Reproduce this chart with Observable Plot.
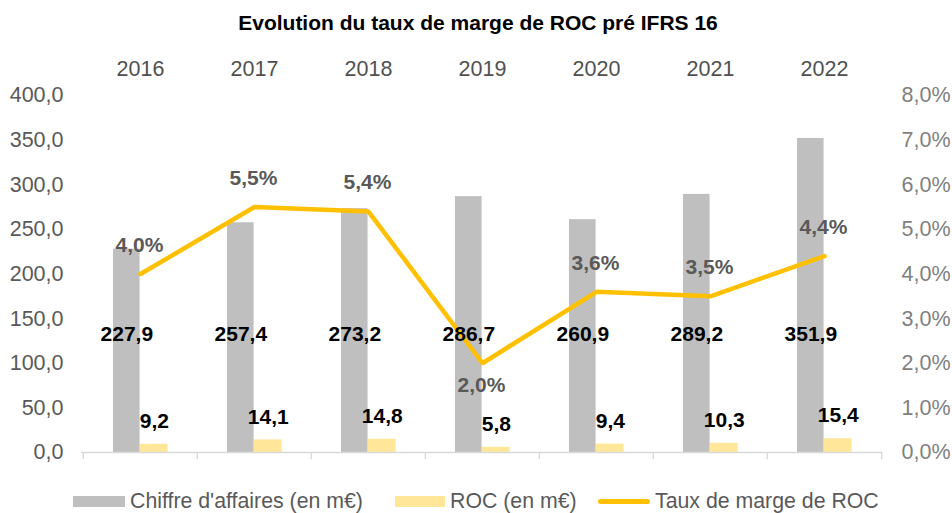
<!DOCTYPE html>
<html><head><meta charset="utf-8">
<script src="https://cdn.jsdelivr.net/npm/d3@7"></script>
<script src="https://cdn.jsdelivr.net/npm/@observablehq/plot@0.6"></script>
<style>
body{margin:0;background:#fff;font-family:"Liberation Sans",Arial,sans-serif;}
#wrap{position:relative;width:952px;height:513px;}
#title{position:absolute;left:0;top:0;width:956px;height:46px;line-height:46px;text-align:center;font-weight:bold;font-size:21px;color:#000;}
#chart{position:absolute;left:0;top:44px;}
.lg{position:absolute;top:487px;height:28px;line-height:28px;font-size:21.3px;color:#595959;white-space:nowrap;}
.sw{position:absolute;}
</style></head>
<body><div id="wrap">
<div id="title">Evolution du taux de marge de ROC pré IFRS 16</div>
<div id="chart"></div>
<div class="sw" style="left:73px;top:496px;width:52px;height:11px;background:#bfbfbf"></div>
<div class="lg" style="left:130px">Chiffre d'affaires (en m€)</div>
<div class="sw" style="left:395px;top:496px;width:50px;height:11px;background:#ffe699"></div>
<div class="lg" style="left:450px">ROC (en m€)</div>
<div class="sw" style="left:598px;top:499px;width:52px;height:5px;border-radius:3px;background:#ffc000"></div>
<div class="lg" style="left:655px">Taux de marge de ROC</div>
</div>
<script>
const years = ["2016","2017","2018","2019","2020","2021","2022"];
const chiffreAffaires = [227.9, 257.4, 273.2, 286.7, 260.9, 289.2, 351.9];
const roc = [9.2, 14.1, 14.8, 5.8, 9.4, 10.3, 15.4];
const tauxMarge = [4.0, 5.5, 5.4, 2.0, 3.6, 3.5, 4.4];
const leftTicks = [0, 50, 100, 150, 200, 250, 300, 350, 400];
const rightTicks = [0, 1, 2, 3, 4, 5, 6, 7, 8];

const data = years.map((y, i) => ({year: y, ca: chiffreAffaires[i], roc: roc[i], taux: tauxMarge[i]}));
const k = 400 / 8; // secondary axis scaling: 8% <-> 400
const fmt1 = v => v.toFixed(1).replace(".", ",");
const minTaux = d3.min(tauxMarge);
const isMin = d => d.taux === minTaux;

const W = 952, ML = 81, MR = 70;
const bw = (W - ML - MR) / years.length;
const grey = "#bfbfbf", yellow = "#ffe699", gold = "#ffc000", txt = "#595959";

const plot = Plot.plot({
  width: W, height: 441,
  marginLeft: ML, marginRight: MR, marginTop: 51, marginBottom: 33,
  style: {fontFamily: "Liberation Sans, Arial, sans-serif", fontSize: "21px", color: txt, background: "white"},
  x: {domain: years, padding: 0, axis: null},
  y: {domain: [0, 400], axis: null},
  marks: [
    Plot.axisX({anchor: "top", label: null, tickSize: 0, tickPadding: 20, fontSize: 21.5, fill: "#505050"}),
    Plot.axisY(leftTicks, {anchor: "left", label: null, tickSize: 0, tickPadding: 18, tickFormat: fmt1, fontSize: 21.5, fill: txt}),
    Plot.axisY(rightTicks.map(t => t * k), {anchor: "right", label: null, tickSize: 0, tickPadding: 19, tickFormat: v => fmt1(v / k) + "%", fontSize: 21.5, fill: "#7f7f7f"}),
    Plot.barY(data, {x: "year", y: "ca", fill: grey, insetLeft: 30, insetRight: bw - 57}),
    Plot.barY(data, {x: "year", y: "roc", fill: yellow, insetLeft: 57, insetRight: bw - 85}),
    Plot.ruleY([0], {stroke: "#d9d9d9", strokeWidth: 1.3}),
    Plot.ruleX(data, {x: "year", y1: 0, y2: -8, dx: -bw / 2, stroke: "#d9d9d9", strokeWidth: 1.3}),
    Plot.ruleX(data.slice(-1), {x: "year", y1: 0, y2: -8, dx: bw / 2, stroke: "#d9d9d9", strokeWidth: 1.3}),
    Plot.line(data, {x: "year", y: d => d.taux * k, stroke: gold, strokeWidth: 4.5, strokeLinejoin: "miter", strokeLinecap: "round"}),
    Plot.text(data, {x: "year", y: 133, text: d => fmt1(d.ca), dx: -13.7, fontSize: 21, fontWeight: "bold", fill: "#000"}),
    Plot.text(data, {x: "year", y: "roc", text: d => fmt1(d.roc), dx: 13.8, dy: -23, fontSize: 21, fontWeight: "bold", fill: "#000"}),
    Plot.text(data.filter(d => !isMin(d)), {x: "year", y: d => d.taux * k, text: d => fmt1(d.taux) + "%", dx: -1, dy: -29, fontSize: 21, fontWeight: "bold", fill: txt}),
    Plot.text(data.filter(d => isMin(d)), {x: "year", y: d => d.taux * k, text: d => fmt1(d.taux) + "%", dx: -1, dy: 22, fontSize: 21, fontWeight: "bold", fill: txt})
  ]
});
document.getElementById("chart").appendChild(plot);
</script>
</body></html>
